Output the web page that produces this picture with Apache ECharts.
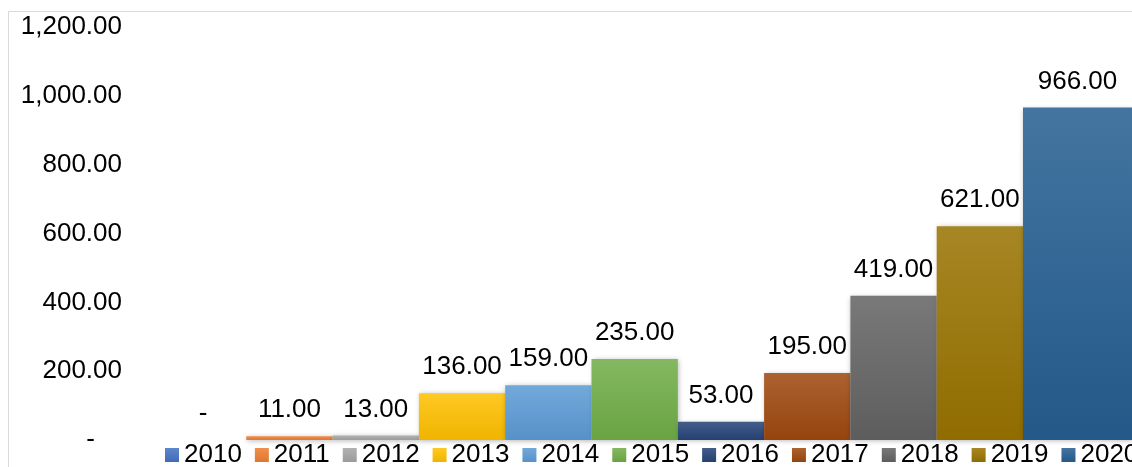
<!DOCTYPE html>
<html>
<head>
<meta charset="utf-8">
<script src="https://cdn.jsdelivr.net/npm/echarts@6/dist/echarts.min.js"></script>
<style>
  html, body { margin: 0; padding: 0; background: #fff; }
  #chart { width: 1132px; height: 467px; }
</style>
</head>
<body>
<div id="chart"></div>
<script>
// data
var years = ['2010', '2011', '2012', '2013', '2014', '2015', '2016', '2017', '2018', '2019', '2020'];
var values = [0, 11, 13, 136, 159, 235, 53, 195, 419, 621, 966];
var yTicks = [0, 200, 400, 600, 800, 1000, 1200];

// office palette, one colour per year
var barColors = ['#4472C4', '#ED7D31', '#A5A5A5', '#FFC000', '#5B9BD5', '#70AD47',
                 '#264478', '#9E480E', '#636363', '#997300', '#255E91'];

var FONT = '"Liberation Sans", Arial, sans-serif';
var FS = 26;

function mix(hex, target, t) {
    var n = parseInt(hex.slice(1), 16);
    var r = (n >> 16) & 255, g = (n >> 8) & 255, b = n & 255;
    r = Math.round(r + (target - r) * t);
    g = Math.round(g + (target - g) * t);
    b = Math.round(b + (target - b) * t);
    return 'rgb(' + r + ',' + g + ',' + b + ')';
}

function grad(hex) {
    return new echarts.graphic.LinearGradient(0, 0, 0, 1, [
        { offset: 0, color: mix(hex, 255, 0.14) },
        { offset: 1, color: mix(hex, 0, 0.06) }
    ]);
}

function fmt(v) {
    if (v === 0) return '-';
    return v.toLocaleString('en-US', { minimumFractionDigits: 2, maximumFractionDigits: 2 });
}

var chart = echarts.init(document.getElementById('chart'));

var lastIdx = years.length - 1;
var mainCats = years.slice(0, lastIdx);

var series = years.map(function (y, i) {
    var onMain = i < lastIdx;
    var data = onMain
        ? mainCats.map(function (c, j) { return j === i ? values[i] : null; })
        : [values[i]];
    return {
        name: y,
        type: 'bar',
        stack: 'all',
        xAxisIndex: onMain ? 0 : 1,
        yAxisIndex: onMain ? 0 : 1,
        barWidth: '100%',
        data: data,
        itemStyle: {
            color: grad(barColors[i]),
            shadowColor: 'rgba(0,0,0,0.3)',
            shadowBlur: 5,
            shadowOffsetX: 1,
            shadowOffsetY: 1
        },
        label: {
            show: true,
            position: 'top',
            distance: 13,
            color: '#000',
            fontSize: FS,
            fontFamily: FONT,
            formatter: function (p) { return fmt(p.value); }
        },
        emphasis: { disabled: true }
    };
});

chart.setOption({
    animation: false,
    graphic: [{
        type: 'rect',
        z: -10,
        shape: { x: 8.5, y: 11.5, width: 1300, height: 600 },
        style: { fill: 'none', stroke: '#d9d9d9', lineWidth: 1 }
    }],
    legend: {
        data: years,
        left: 165,
        top: 442,
        width: 1400,
        padding: 0,
        itemWidth: 14,
        itemHeight: 14,
        itemGap: 13,
        icon: 'rect',
        textStyle: { fontSize: FS, color: '#000', fontFamily: FONT }
    },
    grid: [
        { left: 160, right: 109, top: 27, bottom: 27 },
        { left: 1023, width: 120, top: 27, bottom: 27 }
    ],
    xAxis: [
        { type: 'category', gridIndex: 0, data: mainCats, boundaryGap: true,
          axisLine: { show: false }, axisTick: { show: false }, axisLabel: { show: false } },
        { type: 'category', gridIndex: 1, data: [years[lastIdx]], boundaryGap: true,
          axisLine: { show: false }, axisTick: { show: false }, axisLabel: { show: false } }
    ],
    yAxis: [
        {
            type: 'value', gridIndex: 0,
            min: yTicks[0], max: yTicks[yTicks.length - 1], interval: yTicks[1] - yTicks[0],
            splitLine: { show: false },
            axisLine: { show: false },
            axisTick: { show: false },
            axisLabel: {
                margin: 38,
                color: '#000',
                fontSize: FS,
                fontFamily: FONT,
                formatter: function (v) { return v === 0 ? '{z|-}' : fmt(v); },
                rich: {
                    z: { fontSize: FS, fontFamily: FONT, color: '#000', padding: [0, 27, 0, 0] }
                }
            }
        },
        {
            type: 'value', gridIndex: 1, show: false,
            min: yTicks[0], max: yTicks[yTicks.length - 1], interval: yTicks[1] - yTicks[0],
            splitLine: { show: false }
        }
    ],
    series: series
});
</script>
</body>
</html>
